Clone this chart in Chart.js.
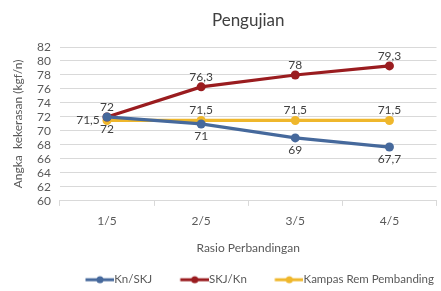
<!DOCTYPE html>
<html>
<head>
<meta charset="utf-8">
<script src="https://cdn.jsdelivr.net/npm/chart.js@4"></script>
<style>
  html, body { margin: 0; padding: 0; background: #fff; }
  #wrap { width: 441px; height: 291px; }
</style>
</head>
<body>
<div id="wrap"><canvas id="chart" width="441" height="291"></canvas></div>
<script>
// data
const categories = ['1/5', '2/5', '3/5', '4/5'];
const knSkj = [72, 71, 69, 67.7];
const skjKn = [72, 76.3, 78, 79.3];
const kampas = [71.5, 71.5, 71.5, 71.5];
const yTicks = [60, 62, 64, 66, 68, 70, 72, 74, 76, 78, 80, 82];

const FONT = 'Lato, "Liberation Sans", sans-serif';
const TEXT = '#595959';
const BOX_W = 42;
const LEGEND_FONT = 11.5;

// legend icon: a line with a dot, pushed to the right so it touches the text
function legendIcon(color) {
    const half = LEGEND_FONT / 2;
    const c = document.createElement('canvas');
    c.width = BOX_W + 2 * half;
    c.height = 10;
    const g = c.getContext('2d');
    const x1 = BOX_W + 2 * half, x0 = x1 - 29;
    g.strokeStyle = color;
    g.lineWidth = 3;
    g.beginPath();
    g.moveTo(x0, 5);
    g.lineTo(x1, 5);
    g.stroke();
    g.fillStyle = color;
    g.beginPath();
    g.arc((x0 + x1) / 2, 5, 3.5, 0, Math.PI * 2);
    g.fill();
    return c;
}

// draws the value next to each point
const valueLabels = {
    id: 'valueLabels',
    afterDatasetsDraw(chart) {
        const ctx = chart.ctx;
        ctx.save();
        ctx.font = '12px ' + FONT;
        ctx.fillStyle = '#404040';
        ctx.textAlign = 'center';
        ctx.textBaseline = 'middle';
        chart.data.datasets.forEach((ds, i) => {
            const meta = chart.getDatasetMeta(i);
            meta.data.forEach((pt, j) => {
                const pos = ds.labelPos[j];
                const txt = String(ds.data[j]).replace('.', ',');
                let x = pt.x, y = pt.y;
                if (pos === 'above') y -= 10;
                else if (pos === 'below') y += 12;
                else if (pos === 'left') x -= 19;
                ctx.fillText(txt, x, y);
            });
        });
        ctx.restore();
    }
};

const colors = {
    blue: '#46699c',
    red: '#9a1c1f',
    yellow: '#efb72c'
};

const chart = new Chart(document.getElementById('chart'), {
    type: 'line',
    data: {
        labels: categories,
        datasets: [
            {
                label: 'Kn/SKJ',
                data: knSkj,
                borderColor: colors.blue,
                backgroundColor: colors.blue,
                labelPos: ['below', 'below', 'below', 'below']
            },
            {
                label: 'SKJ/Kn',
                data: skjKn,
                borderColor: colors.red,
                backgroundColor: colors.red,
                labelPos: ['above', 'above', 'above', 'above']
            },
            {
                label: 'Kampas Rem Pembanding',
                data: kampas,
                borderColor: colors.yellow,
                backgroundColor: colors.yellow,
                labelPos: ['left', 'above', 'above', 'above']
            }
        ]
    },
    options: {
        responsive: false,
        animation: false,
        layout: { padding: { left: 1, right: -2, top: 0, bottom: -4.5 } },
        elements: {
            line: { borderWidth: 3.2, tension: 0 },
            point: { radius: 4.5, borderWidth: 0, hoverRadius: 4.5 }
        },
        plugins: {
            title: {
                display: true,
                fullSize: false,
                text: 'Pengujian',
                color: '#404040',
                font: { family: FONT, size: 17, weight: 'normal' },
                padding: { top: 10, bottom: 16.6 }
            },
            legend: {
                position: 'bottom',
                align: 'end',
                labels: {
                    color: TEXT,
                    font: { family: FONT, size: LEGEND_FONT },
                    usePointStyle: true,
                    pointStyleWidth: BOX_W,
                    padding: 9,
                    generateLabels(chart) {
                        return chart.data.datasets.map((ds, i) => ({
                            text: ds.label,
                            pointStyle: legendIcon(ds.borderColor),
                            fillStyle: ds.borderColor,
                            strokeStyle: ds.borderColor,
                            fontColor: TEXT,
                            lineWidth: 0,
                            hidden: false,
                            datasetIndex: i
                        }));
                    }
                }
            },
            tooltip: { enabled: false }
        },
        scales: {
            x: {
                offset: true,
                grid: {
                    offset: true,
                    drawOnChartArea: false,
                    drawTicks: true,
                    tickLength: 5,
                    color: '#d9d9d9'
                },
                border: { color: '#d9d9d9' },
                ticks: {
                    color: TEXT,
                    font: { family: FONT, size: 12 },
                    padding: 8
                },
                title: {
                    display: true,
                    text: 'Rasio Perbandingan',
                    color: TEXT,
                    font: { family: FONT, size: 12 },
                    padding: { top: 4.4, bottom: 9.9 }
                }
            },
            y: {
                min: 60,
                max: 82,
                afterBuildTicks(scale) {
                    scale.ticks = yTicks.map(v => ({ value: v }));
                },
                grid: { color: '#d9d9d9', drawTicks: false },
                border: { display: false },
                ticks: {
                    color: TEXT,
                    font: { family: FONT, size: 12 },
                    autoSkip: false,
                    padding: 9
                },
                title: {
                    display: true,
                    text: 'Angka  kekerasan (kgf/n)',
                    color: TEXT,
                    font: { family: FONT, size: 12 },
                    padding: { top: 10, bottom: 2.6 }
                }
            }
        }
    },
    plugins: [valueLabels]
});
</script>
</body>
</html>
